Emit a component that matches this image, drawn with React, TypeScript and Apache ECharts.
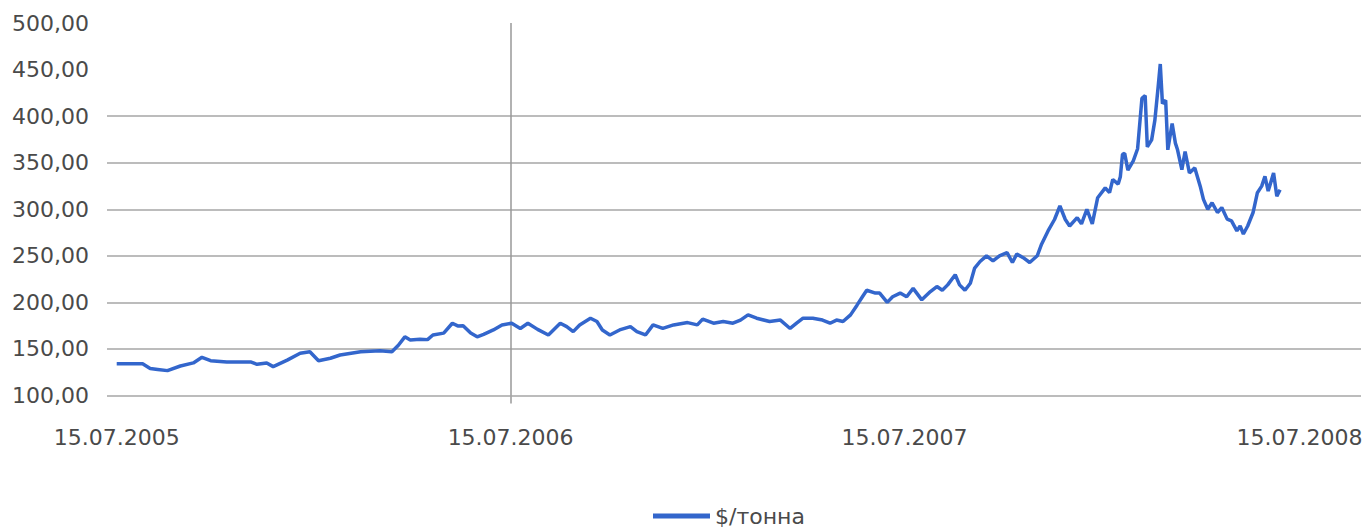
import React, { useEffect, useRef } from "react";
import * as echarts from "echarts";

// days since 15.07.2005
const days = [0,12,24,31,38,47,59,71,79,87,102,124,130,139,145,158,170,179,187,198,207,226,244,255,261,267,272,281,288,293,303,311,316,321,328,334,340,349,357,366,374,381,390,400,411,417,423,429,439,445,450,457,466,476,482,490,497,506,516,529,538,543,553,562,571,578,585,593,605,615,624,630,636,645,654,661,667,673,680,686,691,695,703,707,714,719,726,732,738,746,754,760,765,770,777,781,786,791,795,800,806,812,818,825,830,834,840,846,853,857,863,869,874,879,883,890,894,899,904,909,916,920,923,928,930,932,934,937,942,946,950,953,955,959,962,965,967,969,972,974,978,981,983,987,990,994,999,1004,1007,1011,1015,1020,1024,1029,1033,1038,1041,1044,1048,1053,1057,1061,1064,1067,1072,1075,1078];

// $/тонна
const prices = [134,134,134,129,128,126.7,131.7,135,141,137.4,136,136,133.5,135,131,138,145.4,147,137.4,140,143.5,147,148,147,154,163,159.6,160.4,160,165,167,177.6,174.7,175,167,163,165.6,170.4,175.8,177.6,172,177.6,171,165,177.6,174,168.6,175.8,183,179.4,170.4,165,170.4,174,168.6,165,175.8,172,175.8,178.3,175.8,182,177.6,179.4,177.6,181,186.6,183,179.4,181,172,177.6,183,183,181,177.6,181,179.4,186.6,197,206,213,210,210,200,206,210,206,215,202.7,211.6,217,213,218.8,229.6,218.8,213,220.6,236.8,243.9,250,244.6,250,253.5,242.8,251.8,248,242.8,250,262.5,276.7,289,303.5,289,282,291,284.3,300,284.3,312.4,323,317.8,332,327,335,359,360,342,352,365,419,422,367,374.5,395.7,431,456,413.5,417,363.8,392,371,363.8,342.5,362,339,344.4,324.8,310.6,300,307,296.5,301.8,289.4,287.5,276.8,282,273.4,282,296.5,317.8,324.8,335.4,319.5,339,314,321];

const tickDays = [0, 365, 730, 1096];
const tickLabels = ["15.07.2005", "15.07.2006", "15.07.2007", "15.07.2008"];
const gridValues = [100, 150, 200, 250, 300, 350, 400];
const seriesName = "$/тонна";

const FONT = "DejaVu Sans";
const GRID = "#a6a6a6";
const TEXT = "#4a4a4a";

export default function App() {
  const ref = useRef<HTMLDivElement>(null);
  useEffect(() => {
    if (!ref.current) return;
    const chart = echarts.init(ref.current, null, { renderer: "svg" });
    const data = days.map((d, i) => [d, prices[i]]);
    chart.setOption({
      animation: false,
      backgroundColor: "#ffffff",
      grid: { left: 107, right: 10, top: 23, bottom: 133.5, containLabel: false },
      legend: {
        data: [seriesName],
        left: 648,
        top: 500,
        icon: "rect",
        itemWidth: 57,
        itemHeight: 5,
        itemGap: 5,
        textStyle: { fontFamily: FONT, fontSize: 22, color: TEXT },
      },
      xAxis: {
        type: "value",
        min: -9,
        max: 1153,
        axisLine: { show: false },
        axisTick: {
          show: true,
          customValues: [365],
          length: 8,
          inside: false,
          lineStyle: { color: "#999999", width: 1.5 },
        },
        splitLine: { show: false },
        axisLabel: {
          customValues: tickDays,
          margin: 31,
          fontFamily: FONT,
          fontSize: 22,
          color: TEXT,
          formatter: (v: number) => {
            const i = tickDays.indexOf(Math.round(v));
            return i >= 0 ? tickLabels[i] : "";
          },
        },
      },
      yAxis: {
        type: "value",
        min: 100,
        max: 500,
        interval: 50,
        axisLine: { show: false },
        axisTick: { show: false },
        axisLabel: {
          margin: 18,
          fontFamily: FONT,
          fontSize: 22,
          color: TEXT,
          formatter: (v: number) => v.toFixed(2).replace(".", ","),
        },
        splitLine: { show: false },
      },
      series: [
        {
          name: seriesName,
          type: "line",
          data,
          showSymbol: false,
          symbol: "none",
          z: 3,
          lineStyle: { color: "#3366cc", width: 3.5 },
          itemStyle: { color: "#3366cc" },
          markLine: {
            silent: true,
            symbol: ["none", "none"],
            label: { show: false },
            z: 1,
            lineStyle: { color: GRID, width: 1.5, type: "solid" },
            data: [
              ...gridValues.map((v) => ({ yAxis: v })),
              { xAxis: 365, lineStyle: { color: "#999999", width: 1.5, type: "solid" } },
            ],
          },
        },
      ],
    });
    return () => chart.dispose();
  }, []);
  return (
    <div
      ref={ref}
      style={{ position: "fixed", left: 0, top: 0, width: "1371px", height: "529px" }}
    />
  );
}
